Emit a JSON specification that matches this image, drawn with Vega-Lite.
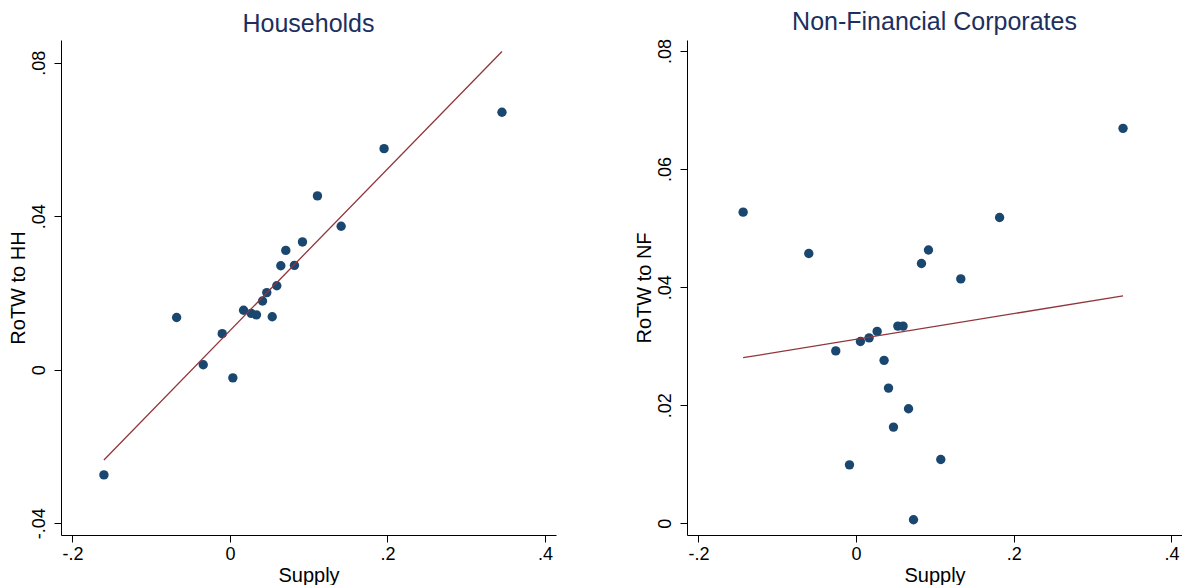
{
  "$schema": "https://vega.github.io/schema/vega-lite/v6.json",
  "padding": {"left": 8, "top": 10, "right": 0, "bottom": 0},
  "spacing": 77,
  "datasets": {
    "hh": [
      {"supply": 0.1111, "rotw": 0.0453},
      {"supply": 0.1412, "rotw": 0.0374},
      {"supply": 0.0921, "rotw": 0.0333},
      {"supply": 0.0709, "rotw": 0.0311},
      {"supply": 0.0646, "rotw": 0.0271},
      {"supply": 0.0819, "rotw": 0.0272},
      {"supply": 0.0595, "rotw": 0.0219},
      {"supply": 0.0468, "rotw": 0.0201},
      {"supply": 0.0414, "rotw": 0.0179},
      {"supply": 0.0173, "rotw": 0.0155},
      {"supply": 0.0270, "rotw": 0.0147},
      {"supply": 0.0337, "rotw": 0.0143},
      {"supply": 0.0537, "rotw": 0.0138},
      {"supply": -0.0677, "rotw": 0.0136},
      {"supply": -0.0098, "rotw": 0.0094},
      {"supply": -0.0339, "rotw": 0.0013},
      {"supply": 0.0037, "rotw": -0.0021},
      {"supply": -0.1600, "rotw": -0.0274},
      {"supply": 0.1957, "rotw": 0.0576},
      {"supply": 0.3454, "rotw": 0.0671}
    ],
    "hhfit": [
      {"supply": -0.1600, "rotw": -0.0235},
      {"supply": 0.3454, "rotw": 0.0829}
    ],
    "nf": [
      {"supply": -0.0600, "rotw": 0.0457},
      {"supply": 0.0918, "rotw": 0.0463},
      {"supply": 0.0829, "rotw": 0.0440},
      {"supply": 0.1328, "rotw": 0.0414},
      {"supply": 0.1820, "rotw": 0.0518},
      {"supply": 0.0529, "rotw": 0.0334},
      {"supply": 0.0596, "rotw": 0.0334},
      {"supply": 0.0267, "rotw": 0.0325},
      {"supply": 0.0165, "rotw": 0.0314},
      {"supply": 0.0055, "rotw": 0.0308},
      {"supply": -0.0258, "rotw": 0.0292},
      {"supply": 0.0355, "rotw": 0.0276},
      {"supply": 0.0411, "rotw": 0.0229},
      {"supply": 0.0665, "rotw": 0.0194},
      {"supply": 0.0474, "rotw": 0.0163},
      {"supply": -0.0084, "rotw": 0.0099},
      {"supply": 0.1074, "rotw": 0.0108},
      {"supply": 0.0728, "rotw": 0.0006},
      {"supply": -0.1433, "rotw": 0.0527},
      {"supply": 0.3386, "rotw": 0.0669}
    ],
    "nffit": [
      {"supply": -0.1433, "rotw": 0.02805},
      {"supply": 0.3386, "rotw": 0.03853}
    ]
  },
  "config": {
    "view": {"stroke": null},
    "font": "Liberation Sans",
    "axis": {
      "grid": false,
      "domainColor": "#000000",
      "domainWidth": 1,
      "tickColor": "#000000",
      "tickSize": 7,
      "tickWidth": 1,
      "labelFont": "Liberation Sans",
      "labelFontSize": 18,
      "labelColor": "#000000",
      "labelPadding": 3,
      "titleFont": "Liberation Sans",
      "titleFontSize": 20,
      "titleFontWeight": "normal",
      "titleColor": "#000000",
      "titlePadding": 2
    },
    "axisY": {"labelAngle": 270, "labelAlign": "center", "labelBaseline": "bottom", "labelPadding": 6},
    "title": {
      "font": "Liberation Sans",
      "fontSize": 25,
      "fontWeight": "normal",
      "color": "#1c2f5e",
      "frame": "group",
      "anchor": "middle",
      "baseline": "alphabetic",
      "offset": 3
    }
  },
  "hconcat": [
    {
      "title": "Households",
      "width": 495,
      "height": 495,
      "layer": [
        {
          "data": {"name": "hh"},
          "mark": {"type": "circle", "size": 88, "opacity": 1, "color": "#1a476f"},
          "encoding": {
            "x": {
              "field": "supply", "type": "quantitative", "title": "Supply",
              "scale": {"domain": [-0.2145, 0.414], "nice": false, "zero": false},
              "axis": {"values": [-0.2, 0, 0.2, 0.4], "labelExpr": "datum.value == 0 ? '0' : (datum.value < 0 ? '-' : '') + replace(format(abs(datum.value), '.1f'), '0.', '.')"}
            },
            "y": {
              "field": "rotw", "type": "quantitative", "title": "RoTW to HH",
              "scale": {"domain": [-0.04305, 0.08591], "nice": false, "zero": false},
              "axis": {"values": [-0.04, 0, 0.04, 0.08], "labelExpr": "datum.value == 0 ? '0' : (datum.value < 0 ? '-' : '') + replace(format(abs(datum.value), '.2f'), '0.', '.')"}
            }
          }
        },
        {
          "data": {"name": "hhfit"},
          "mark": {"type": "line", "color": "#90353b", "strokeWidth": 1.3},
          "encoding": {
            "x": {"field": "supply", "type": "quantitative", "title": "Supply"},
            "y": {"field": "rotw", "type": "quantitative", "title": "RoTW to HH"}
          }
        }
      ]
    },
    {
      "title": "Non-Financial Corporates",
      "width": 495,
      "height": 495,
      "layer": [
        {
          "data": {"name": "nf"},
          "mark": {"type": "circle", "size": 88, "opacity": 1, "color": "#1a476f"},
          "encoding": {
            "x": {
              "field": "supply", "type": "quantitative", "title": "Supply",
              "scale": {"domain": [-0.2145, 0.4134], "nice": false, "zero": false},
              "axis": {"values": [-0.2, 0, 0.2, 0.4], "labelExpr": "datum.value == 0 ? '0' : (datum.value < 0 ? '-' : '') + replace(format(abs(datum.value), '.1f'), '0.', '.')"}
            },
            "y": {
              "field": "rotw", "type": "quantitative", "title": "RoTW to NF",
              "scale": {"domain": [-0.00198, 0.08186], "nice": false, "zero": false},
              "axis": {"values": [0, 0.02, 0.04, 0.06, 0.08], "labelExpr": "datum.value == 0 ? '0' : (datum.value < 0 ? '-' : '') + replace(format(abs(datum.value), '.2f'), '0.', '.')"}
            }
          }
        },
        {
          "data": {"name": "nffit"},
          "mark": {"type": "line", "color": "#90353b", "strokeWidth": 1.3},
          "encoding": {
            "x": {"field": "supply", "type": "quantitative", "title": "Supply"},
            "y": {"field": "rotw", "type": "quantitative", "title": "RoTW to NF"}
          }
        }
      ]
    }
  ]
}
